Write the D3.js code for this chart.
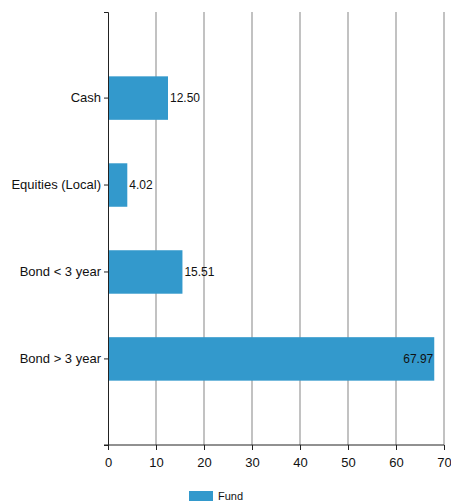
<!DOCTYPE html>
<html>
<head>
<meta charset="utf-8">
<script src="https://cdn.jsdelivr.net/npm/d3@7"></script>
<style>
  body { margin: 0; background: #fff; }
  svg { font-family: "Liberation Sans", Arial, sans-serif; }
  .grid line { stroke: #999; stroke-width: 1.2; }
  .axis path, .axis line { stroke: #222; }
</style>
</head>
<body>
<svg id="chart" width="451" height="503"></svg>
<script>
var categories = ['Cash', 'Equities (Local)', 'Bond < 3 year', 'Bond > 3 year'];
var fund = [12.50, 4.02, 15.51, 67.97];
var xTicks = [0, 10, 20, 30, 40, 50, 60, 70];
var seriesName = 'Fund';

var margin = {top: 12, left: 108, right: 7, bottom: 58};
var width = 451 - margin.left - margin.right,
    height = 503 - margin.top - margin.bottom;

var svg = d3.select('#chart');
var g = svg.append('g')
  .attr('transform', 'translate(' + margin.left + ',' + margin.top + ')');

var x = d3.scaleLinear().domain([0, 70]).range([0, 336]);
var y = d3.scaleBand().domain(categories).range([0, height])
  .paddingInner(0.5).paddingOuter(0.74);

// vertical grid
g.append('g').attr('class', 'grid')
  .selectAll('line')
  .data(xTicks.filter(function(d) { return d > 0; }))
  .enter().append('line')
  .attr('x1', function(d) { return x(d); })
  .attr('x2', function(d) { return x(d); })
  .attr('y1', 0)
  .attr('y2', height);

var bars = g.selectAll('.bar')
  .data(fund)
  .enter().append('g')
  .attr('class', 'bar');

bars.append('rect')
  .attr('x', 0)
  .attr('y', function(d, i) { return y(categories[i]); })
  .attr('width', function(d) { return x(d); })
  .attr('height', y.bandwidth())
  .attr('fill', '#3399cc');

bars.append('text')
  .attr('x', function(d) { return d > 50 ? x(d) - 1 : x(d) + 2; })
  .attr('y', function(d, i) { return y(categories[i]) + y.bandwidth() / 2; })
  .attr('dy', '.35em')
  .style('text-anchor', function(d) { return d > 50 ? 'end' : 'start'; })
  .style('font-size', '12px')
  .attr('fill', '#111')
  .text(function(d) { return d.toFixed(2); });

// axes
var xAxis = g.append('g').attr('class', 'axis')
  .attr('transform', 'translate(0,' + height + ')')
  .call(d3.axisBottom(x).tickValues(xTicks).tickSize(5).tickSizeOuter(0));
xAxis.selectAll('text').style('font-size', '13px').attr('fill', '#111').attr('dy', '1.1em');
xAxis.select('.domain').attr('d', 'M-4,0H' + x(70));

var yAxis = g.append('g').attr('class', 'axis')
  .call(d3.axisLeft(y).tickSize(4).tickSizeOuter(4));
yAxis.selectAll('text').style('font-size', '13px').attr('fill', '#111');

// legend
var legend = svg.append('g')
  .attr('transform', 'translate(189,491)');
legend.append('rect')
  .attr('width', 24).attr('height', 10)
  .attr('fill', '#3399cc');
legend.append('text')
  .attr('x', 29).attr('y', 5).attr('dy', '.4em')
  .style('font-size', '11px')
  .attr('fill', '#111')
  .text(seriesName);
</script>
</body>
</html>
